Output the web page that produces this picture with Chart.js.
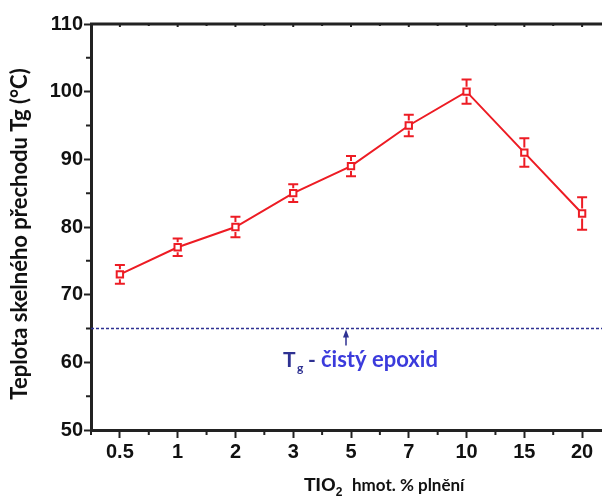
<!DOCTYPE html>
<html>
<head>
<meta charset="utf-8">
<script src="https://cdn.jsdelivr.net/npm/chart.js@4.4.0/dist/chart.umd.min.js"></script>
<style>
  html, body { margin: 0; padding: 0; background: #fff; overflow: hidden; }
  #wrap { width: 620px; height: 500px; }
</style>
</head>
<body>
<div id="wrap"><canvas id="tgChart" width="620" height="500"></canvas></div>
<script>
// data
var fillers = ["0.5", "1", "2", "3", "5", "7", "10", "15", "20"];
var tgValues = [73, 77, 80, 85, 89, 95, 100, 91, 82];
var tgErrors = [1.4, 1.3, 1.5, 1.3, 1.5, 1.6, 1.8, 2.1, 2.4];
var yTicks = [50, 60, 70, 80, 90, 100, 110];
var pureEpoxyTg = 65;

var red = "#ed1c24";
var navy = "#2e3192";

// error bars, minor ticks, top frame, reference line and texts
var extras = {
  id: "extras",
  afterDatasetsDraw: function (chart) {
    var ctx = chart.ctx;
    var xs = chart.scales.x, ys = chart.scales.y;
    var area = chart.chartArea;
    ctx.save();

    // error bars
    ctx.strokeStyle = red;
    ctx.lineWidth = 2;
    tgValues.forEach(function (v, i) {
      var px = xs.getPixelForValue(i);
      var top = ys.getPixelForValue(v + tgErrors[i]);
      var bot = ys.getPixelForValue(v - tgErrors[i]);
      ctx.beginPath();
      ctx.moveTo(px, top); ctx.lineTo(px, ys.getPixelForValue(v) - 5);
      ctx.moveTo(px, bot); ctx.lineTo(px, ys.getPixelForValue(v) + 5);
      ctx.moveTo(px - 5, top); ctx.lineTo(px + 5, top);
      ctx.moveTo(px - 5, bot); ctx.lineTo(px + 5, bot);
      ctx.stroke();
    });

    // dashed reference line
    var yRef = ys.getPixelForValue(pureEpoxyTg);
    ctx.strokeStyle = navy;
    ctx.lineWidth = 1.5;
    ctx.setLineDash([3, 2]);
    ctx.beginPath();
    ctx.moveTo(area.left, yRef);
    ctx.lineTo(area.right, yRef);
    ctx.stroke();
    ctx.setLineDash([]);

    // arrow
    var ax = 346;
    ctx.lineWidth = 1.5;
    ctx.beginPath();
    ctx.moveTo(ax, yRef + 17);
    ctx.lineTo(ax, yRef + 6);
    ctx.stroke();
    ctx.fillStyle = navy;
    ctx.beginPath();
    ctx.moveTo(ax, yRef + 1);
    ctx.lineTo(ax - 3, yRef + 9);
    ctx.lineTo(ax + 3, yRef + 9);
    ctx.closePath();
    ctx.fill();

    // annotation text
    ctx.textBaseline = "alphabetic";
    ctx.textAlign = "left";
    ctx.fillStyle = navy;
    ctx.font = "bold 21px Lato";
    ctx.fillText("T", 283, 367);
    ctx.font = "bold 12px Lato";
    ctx.fillText("g", 297, 372);
    ctx.font = "bold 21px Lato";
    ctx.fillText("-", 308, 367);
    ctx.fillStyle = "#3b3bdc";
    ctx.font = "bold 22px Lato";
    ctx.fillText("čistý epoxid", 321, 367);

    // top frame line
    ctx.strokeStyle = "#222";
    ctx.lineWidth = 3;
    ctx.beginPath();
    ctx.moveTo(area.left - 1, area.top);
    ctx.lineTo(area.right, area.top);
    ctx.stroke();

    // minor ticks on x (between categories) and y (every 5)
    ctx.lineWidth = 2;
    ctx.beginPath();
    for (var i = 0; i <= fillers.length; i++) {
      var mx = xs.getPixelForValue(i - 0.5);
      ctx.moveTo(mx, area.bottom); ctx.lineTo(mx, area.bottom + 5);
      ctx.moveTo(mx, area.top); ctx.lineTo(mx, area.top + 2);
    }
    for (var j = 0; j < fillers.length; j++) {
      var tx = xs.getPixelForValue(j);
      ctx.moveTo(tx, area.top); ctx.lineTo(tx, area.top + 3);
    }
    for (var k = 0; k < yTicks.length - 1; k++) {
      var my = ys.getPixelForValue(yTicks[k] + 5);
      ctx.moveTo(area.left, my); ctx.lineTo(area.left - 5, my);
    }
    ctx.stroke();

    // x axis title with subscript
    ctx.fillStyle = "#111";
    ctx.font = "bold 19px 'Liberation Sans'";
    ctx.fillText("TIO", 304, 491);
    var w = ctx.measureText("TIO").width;
    ctx.font = "bold 12px 'Liberation Sans'";
    ctx.fillText("2", 304 + w, 496);
    ctx.font = "bold 17px Lato";
    ctx.fillText("hmot. % plnění", 352, 491);

    // y axis title
    ctx.save();
    ctx.translate(27, 234);
    ctx.rotate(-Math.PI / 2);
    ctx.textAlign = "center";
    ctx.font = "bold 22px Lato";
    ctx.fillText("Teplota skelného přechodu Tg (°C)", 0, 0);
    ctx.restore();

    ctx.restore();
  }
};

new Chart(document.getElementById("tgChart"), {
  type: "line",
  data: {
    labels: fillers,
    datasets: [{
      data: tgValues,
      borderColor: red,
      borderWidth: 2,
      backgroundColor: "#fff",
      pointStyle: "rect",
      pointRadius: 4.5,
      pointBorderWidth: 2,
      pointBorderColor: red,
      pointBackgroundColor: "#fff",
      tension: 0
    }]
  },
  options: {
    responsive: false,
    animation: false,
    layout: { padding: { left: 0, top: 24, right: 9, bottom: 0 } },
    plugins: {
      legend: { display: false },
      tooltip: { enabled: false }
    },
    scales: {
      x: {
        type: "category",
        offset: true,
        afterFit: function (scale) { scale.height = 70; },
        border: { display: true, color: "#222", width: 3 },
        grid: { display: true, drawOnChartArea: false, tickLength: 8, tickWidth: 2, tickColor: "#222" },
        ticks: {
          color: "#111",
          padding: 2,
          font: { family: "Liberation Sans", weight: "bold", size: 20 },
          maxRotation: 0
        }
      },
      y: {
        min: 50,
        max: 110,
        afterFit: function (scale) { scale.width = 91; },
        afterBuildTicks: function (scale) {
          scale.ticks = yTicks.map(function (v) { return { value: v }; });
        },
        border: { display: true, color: "#222", width: 3 },
        grid: { display: true, drawOnChartArea: false, tickLength: 7, tickWidth: 2, tickColor: "#222" },
        ticks: {
          color: "#111",
          padding: 1,
          font: { family: "Liberation Sans", weight: "bold", size: 20 }
        }
      }
    }
  },
  plugins: [extras]
});
</script>
</body>
</html>
